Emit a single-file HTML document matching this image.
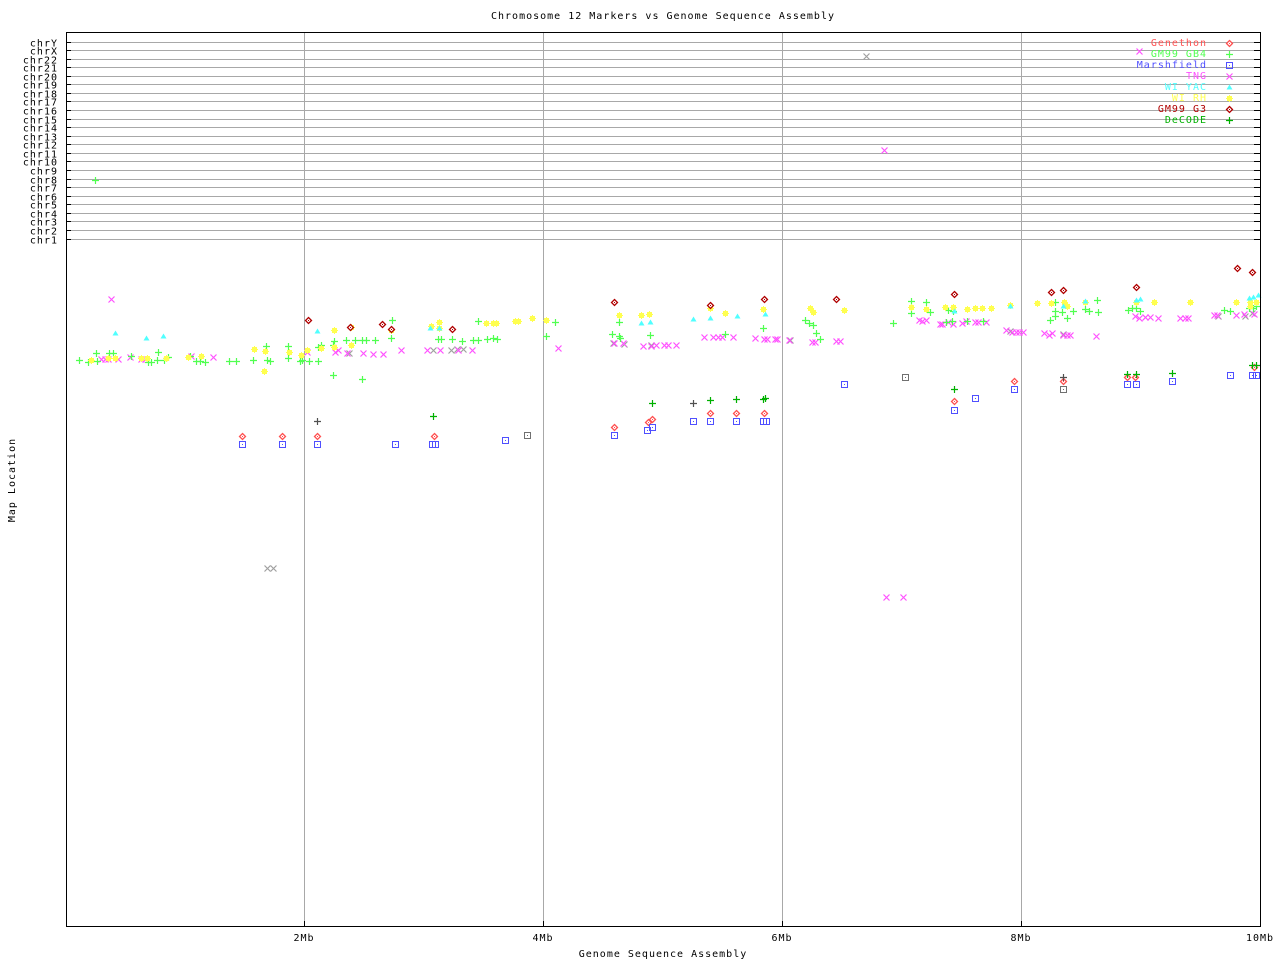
<!DOCTYPE html>
<html><head><meta charset="utf-8"><style>
body{margin:0;background:#fff}
svg text{font-family:"DejaVu Sans Mono","Liberation Mono",monospace;font-size:10px;letter-spacing:1px}
</style></head><body>
<svg id="s" width="1280" height="960" xmlns="http://www.w3.org/2000/svg">
<rect width="1280" height="960" fill="#fff"/>
<text x="663" y="19" text-anchor="middle">Chromosome 12 Markers vs Genome Sequence Assembly</text>
<text x="663" y="957" text-anchor="middle">Genome Sequence Assembly</text>
<text transform="translate(15,480) rotate(-90)" text-anchor="middle">Map Location</text>
<g id="grid"></g>
<g id="pts"></g>
<rect x="66.5" y="32.5" width="1194" height="894" fill="none" stroke="#000"/>
<g text-anchor="middle">
<text x="304" y="941">2Mb</text><text x="543" y="941">4Mb</text><text x="782" y="941">6Mb</text><text x="1021" y="941">8Mb</text><text x="1260" y="941">10Mb</text>
</g>
<g text-anchor="end">
<text x="1207" y="46" fill="#ff5050">Genethon</text>
<text x="1207" y="57" fill="#50ff50">GM99 GB4</text>
<text x="1207" y="68" fill="#5050ff">Marshfield</text>
<text x="1207" y="79" fill="#ff50ff">TNG</text>
<text x="1207" y="90" fill="#50ffff">WI YAC</text>
<text x="1207" y="101" fill="#ffff50">WI RH</text>
<text x="1207" y="112" fill="#b00000">GM99 G3</text>
<text x="1207" y="123" fill="#00b000">DeCODE</text>
</g>
</svg>
<script>
var NS="http://www.w3.org/2000/svg";
var g=document.getElementById('grid'),p=document.getElementById('pts');
function el(t,a,par){var e=document.createElementNS(NS,t);for(var k in a)e.setAttribute(k,a[k]);(par||p).appendChild(e);return e;}
var chrs=["chrY","chrX","chr22","chr21","chr20","chr19","chr18","chr17","chr16","chr15","chr14","chr13","chr12","chr11","chr10","chr9","chr8","chr7","chr6","chr5","chr4","chr3","chr2","chr1"];
chrs.forEach(function(c,i){var y=Math.round(41.5+i*(238.5-41.5)/23)+0.5;
 el('line',{x1:66,x2:1260,y1:y,y2:y,stroke:'#a8a8a8'},g);
 el('line',{x1:66,x2:71,y1:y,y2:y,stroke:'#000'},g);
 el('line',{x1:1254,x2:1260,y1:y,y2:y,stroke:'#000'},g);
 var t=el('text',{x:58,y:y+4,'text-anchor':'end'},g);t.textContent=c;});
[304,543,782,1021].forEach(function(x){el('line',{x1:x+.5,x2:x+.5,y1:33,y2:926,stroke:'#a8a8a8'},g);el('line',{x1:x+.5,x2:x+.5,y1:921,y2:926,stroke:'#000'},g);});
function plus(x,y,c){el('path',{d:'M'+(x-3)+' '+(y+.5)+'h7M'+(x+.5)+' '+(y-3)+'v7',stroke:c,'stroke-width':1.2,fill:'none'});}
function cross(x,y,c){el('path',{d:'M'+(x-2.5)+' '+(y-2.5)+'l6 6M'+(x+3.5)+' '+(y-2.5)+'l-6 6',stroke:c,'stroke-width':1.2,fill:'none'});}
function dia(x,y,c){el('path',{d:'M'+(x+.5)+' '+(y-2.5)+'l3 3l-3 3l-3-3z',stroke:c,'stroke-width':1.3,fill:'#fff'});el('rect',{x:x,y:y,width:1,height:1,fill:c});}
function sq(x,y,c){el('rect',{x:x-2.5,y:y-2.5,width:6,height:6,stroke:c,fill:'none'});el('rect',{x:x,y:y,width:1,height:1,fill:c});}
function tri(x,y,c){el('path',{d:'M'+(x+.5)+' '+(y-2.5)+'l3 5h-6z',fill:c});}
function star(x,y,c){el('rect',{x:x-2,y:y-2,width:5,height:5,fill:c});el('path',{d:'M'+(x-3)+' '+(y+.5)+'h7M'+(x+.5)+' '+(y-3)+'v7',stroke:c,'stroke-width':1});}
function draw(f,c,s){s.forEach(function(q){f(q[0],q[1],c);});}
dia(1229,43,'#ff5050');plus(1229,54,'#50ff50');sq(1229,65,'#5050ff');cross(1229,76,'#ff50ff');tri(1229,87,'#50ffff');star(1229,98,'#ffff50');dia(1229,109,'#b00000');plus(1229,120,'#00b000');
draw(cross,'#a0a0a0',[[866,56],[267,568],[273,568],[349,353],[433,350],[451,350],[457,349],[463,349],[613,343],[624,344],[651,345],[790,340],[1252,313],[1218,316],[1245,316],[1010,331],[1063,334]]);
draw(cross,'#ff50ff',[[1139,51],[884,150],[886,597],[903,597],[111,299],[101,359],[105,359],[108,359],[118,359],[141,359],[145,359],[130,357],[213,357],[191,356],[307,352],[335,352],[338,350],[347,353],[363,353],[373,354],[383,354],[401,350],[427,350],[440,350],[458,350],[472,350],[558,348],[614,343],[623,343],[643,346],[651,346],[656,345],[664,345],[668,345],[676,345],[704,337],[713,337],[718,337],[722,337],[733,337],[755,338],[764,339],[767,339],[775,339],[777,339],[789,340],[812,342],[815,342],[836,341],[840,341],[919,320],[922,321],[926,320],[940,324],[942,324],[948,322],[953,324],[962,323],[966,321],[975,322],[978,322],[986,322],[1006,330],[1012,332],[1016,332],[1019,332],[1023,332],[1044,333],[1049,335],[1052,333],[1063,335],[1067,335],[1070,335],[1096,336],[1135,316],[1139,318],[1145,317],[1150,317],[1158,318],[1180,318],[1185,318],[1188,318],[1214,315],[1217,315],[1236,315],[1244,314],[1254,314]]);
draw(plus,'#50ff50',[[95,180],[79,360],[88,362],[96,353],[97,361],[109,353],[113,353],[131,356],[158,352],[164,360],[168,357],[157,360],[148,362],[151,362],[190,356],[196,361],[200,361],[205,362],[229,361],[236,361],[253,360],[266,346],[267,360],[270,361],[288,358],[288,346],[300,361],[302,360],[309,361],[318,361],[318,347],[321,345],[333,345],[333,375],[362,379],[334,341],[346,340],[355,340],[362,340],[366,340],[375,340],[391,338],[392,320],[438,339],[441,339],[452,339],[462,341],[473,340],[478,321],[487,339],[493,338],[497,339],[478,340],[555,322],[546,336],[612,334],[619,336],[619,322],[620,338],[650,335],[725,334],[763,328],[805,320],[809,323],[813,325],[816,333],[820,339],[893,323],[911,301],[911,313],[926,302],[930,312],[946,322],[952,321],[948,310],[953,311],[967,321],[983,321],[1050,320],[1055,311],[1055,316],[1062,312],[1073,311],[1067,318],[1055,302],[1085,309],[1089,311],[1097,300],[1098,312],[1128,310],[1132,308],[1136,308],[1140,311],[1224,310],[1230,311],[1249,308],[1253,308],[1256,306]]);
draw(star,'#ffff50',[[91,360],[108,358],[115,358],[141,358],[147,358],[166,358],[188,357],[201,356],[254,349],[265,351],[264,371],[289,352],[301,355],[307,350],[321,348],[334,347],[334,330],[351,327],[351,345],[391,330],[431,326],[439,322],[439,328],[486,323],[493,323],[496,323],[515,321],[518,321],[532,318],[546,320],[619,315],[641,315],[649,314],[710,308],[725,313],[763,309],[810,308],[813,312],[844,310],[911,307],[926,309],[945,307],[953,307],[967,309],[975,308],[982,308],[991,308],[1010,305],[1037,303],[1051,303],[1064,302],[1067,306],[1085,302],[1136,302],[1154,302],[1190,302],[1236,302],[1250,302],[1256,302],[1250,306]]);
draw(tri,'#50ffff',[[115,333],[146,338],[163,336],[317,331],[430,328],[439,328],[641,323],[650,322],[693,319],[710,318],[737,316],[765,314],[954,311],[1010,306],[1063,306],[1085,301],[1136,300],[1140,299],[1249,298],[1253,297],[1258,295]]);
draw(dia,'#ff5050',[[242,436],[282,436],[317,436],[434,436],[614,427],[648,422],[652,419],[710,413],[736,413],[764,413],[1014,381],[954,401],[1063,381],[1127,377],[1135,377],[1254,367]]);
draw(dia,'#b00000',[[308,320],[350,327],[382,324],[391,329],[452,329],[614,302],[710,305],[764,299],[836,299],[954,294],[1051,292],[1063,290],[1136,287],[1237,268],[1252,272]]);
draw(sq,'#5050ff',[[242,444],[282,444],[317,444],[395,444],[432,444],[435,444],[505,440],[614,435],[647,430],[652,427],[693,421],[710,421],[736,421],[763,421],[766,421],[844,384],[954,410],[975,398],[1014,389],[1127,384],[1136,384],[1172,381],[1230,375],[1252,375],[1256,375]]);
draw(sq,'#707070',[[527,435],[905,377],[1063,389]]);
draw(plus,'#00b000',[[433,416],[652,403],[710,400],[736,399],[763,399],[765,398],[954,389],[1127,374],[1136,374],[1172,373],[1252,365],[1256,365]]);
draw(plus,'#505050',[[317,421],[693,403],[1063,377]]);
</script>
</body></html>
